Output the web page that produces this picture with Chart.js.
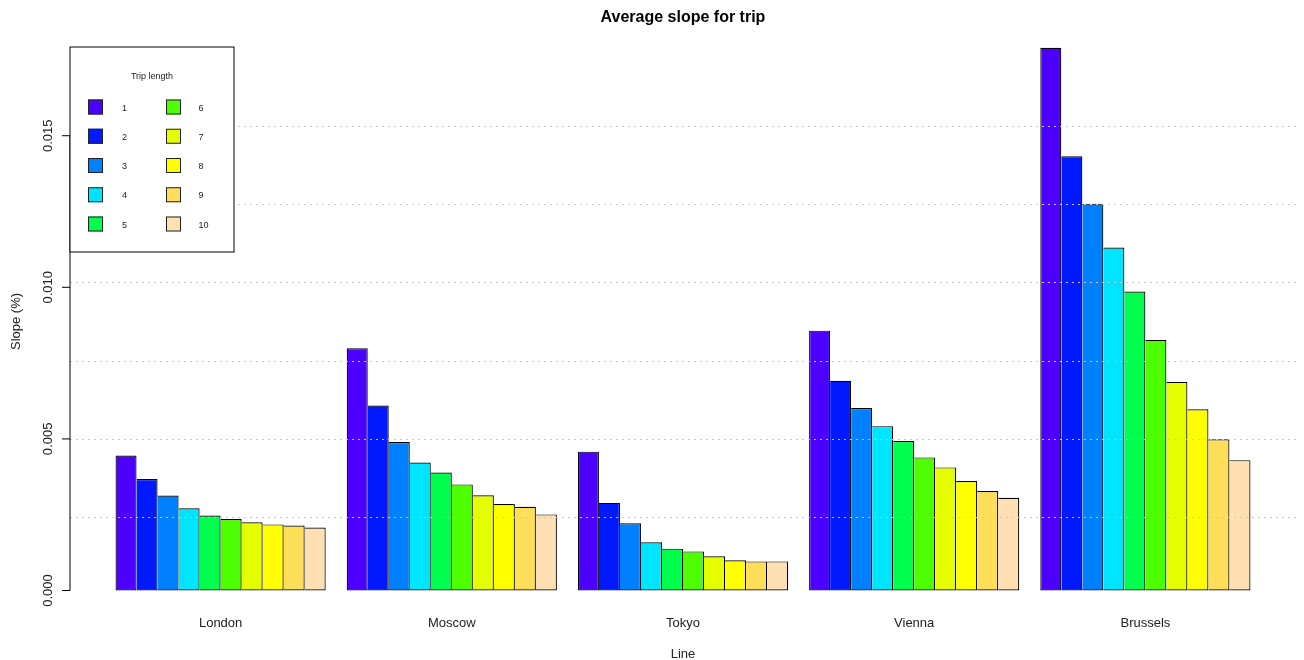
<!DOCTYPE html>
<html>
<head>
<meta charset="utf-8">
<title>Average slope for trip</title>
<script src="https://cdn.jsdelivr.net/npm/chart.js@4.4.1/dist/chart.umd.min.js"></script>
<style>
  html, body { margin: 0; padding: 0; background: #ffffff; }
  canvas { display: block; }
</style>
</head>
<body>
<canvas id="chart" width="1304" height="660"></canvas>
<script>
// Groups along the x axis and the trip lengths drawn side by side in each group
const cities = ['London', 'Moscow', 'Tokyo', 'Vienna', 'Brussels'];
const tripLengths = ['1', '2', '3', '4', '5', '6', '7', '8', '9', '10'];

// Average slope per trip length (1..10) for each line
const london   = [0.00445, 0.00368, 0.00313, 0.00271, 0.00247, 0.00236, 0.00225, 0.00218, 0.00214, 0.00208];
const moscow   = [0.00799, 0.00610, 0.00490, 0.00422, 0.00389, 0.00350, 0.00314, 0.00285, 0.00276, 0.00251];
const tokyo    = [0.00458, 0.00289, 0.00222, 0.00159, 0.00138, 0.00129, 0.00113, 0.00100, 0.00096, 0.00096];
const vienna   = [0.00857, 0.00692, 0.00602, 0.00542, 0.00493, 0.00439, 0.00406, 0.00361, 0.00328, 0.00306];
const brussels = [0.01790, 0.01432, 0.01276, 0.01131, 0.00986, 0.00826, 0.00688, 0.00598, 0.00499, 0.00430];

// topo.colors(10)
const tripColors = ['#4C00FF', '#0019FF', '#0080FF', '#00E5FF', '#00FF4D',
                    '#4DFF00', '#E6FF00', '#FFFF00', '#FFDE59', '#FFE0B3'];

const yTickValues = [0, 0.005, 0.010, 0.015];
const yTickLabels = ['0.000', '0.005', '0.010', '0.015'];

const cityValues = [london, moscow, tokyo, vienna, brussels];

const FONT = "'Liberation Sans', Arial, Helvetica, sans-serif";
const GRID_DIVISIONS = 7;

const datasets = tripLengths.map((len, j) => ({
  label: len,
  data: cities.map((c, i) => ({ x: i, y: cityValues[i][j] })),
  backgroundColor: tripColors[j],
  borderColor: '#000000',
  borderWidth: { top: 1.2, right: 1.2, bottom: 1.2, left: j === 0 ? 1.2 : 0 },
  borderSkipped: false,
  clip: false
}));

// Base-graphics style decorations: dotted grid, axis, text and the boxed legend
const baseGraphics = {
  id: 'baseGraphics',
  afterDatasetsDraw(chart) {
    const { ctx, chartArea: a, scales: { y } } = chart;
    ctx.save();
    ctx.strokeStyle = '#c8c8c8';
    ctx.lineWidth = 1;
    ctx.setLineDash([2, 4]);
    for (let k = 1; k < GRID_DIVISIONS; k++) {
      const v = y.min + (y.max - y.min) * k / GRID_DIVISIONS;
      const py = Math.round(y.getPixelForValue(v)) + 0.5;
      ctx.beginPath();
      ctx.moveTo(a.left, py);
      ctx.lineTo(a.right, py);
      ctx.stroke();
    }
    ctx.restore();
  },
  afterDraw(chart) {
    const { ctx, chartArea: a, scales: { x, y } } = chart;
    ctx.save();

    // y axis line and ticks
    ctx.strokeStyle = '#000000';
    ctx.lineWidth = 1;
    const y0 = y.getPixelForValue(yTickValues[0]);
    const y1 = y.getPixelForValue(yTickValues[yTickValues.length - 1]);
    ctx.beginPath();
    ctx.moveTo(a.left, y0);
    ctx.lineTo(a.left, y1);
    yTickValues.forEach(v => {
      const py = y.getPixelForValue(v);
      ctx.moveTo(a.left, py);
      ctx.lineTo(a.left - 8, py);
    });
    ctx.stroke();

    // y tick labels, parallel to the axis
    ctx.fillStyle = '#222222';
    ctx.font = '13px ' + FONT;
    ctx.textAlign = 'center';
    ctx.textBaseline = 'alphabetic';
    yTickValues.forEach((v, i) => {
      const py = y.getPixelForValue(v);
      ctx.save();
      ctx.translate(52, py);
      ctx.rotate(-Math.PI / 2);
      ctx.fillText(yTickLabels[i], 0, 0);
      ctx.restore();
    });

    // group names
    cities.forEach((c, i) => {
      ctx.fillText(c, x.getPixelForValue(i), 627);
    });

    // axis titles
    const midX = (a.left + a.right) / 2;
    ctx.fillText('Line', midX, 658);
    ctx.save();
    ctx.translate(19.5, (a.top + a.bottom) / 2);
    ctx.rotate(-Math.PI / 2);
    ctx.fillText('Slope (%)', 0, 0);
    ctx.restore();

    // main title
    ctx.fillStyle = '#000000';
    ctx.font = 'bold 16px ' + FONT;
    ctx.fillText('Average slope for trip', midX, 22);

    // legend box
    const lx = 70, ly = 47, lw = 164, lh = 205;
    ctx.fillStyle = '#ffffff';
    ctx.fillRect(lx, ly, lw, lh);
    ctx.strokeStyle = '#000000';
    ctx.strokeRect(lx, ly, lw, lh);

    ctx.fillStyle = '#222222';
    ctx.font = '9px ' + FONT;
    ctx.textAlign = 'center';
    ctx.fillText('Trip length', 152, 79);

    const rows = 5;
    const colSquareX = [88, 166];
    const colTextX = [122, 198.5];
    chart.data.datasets.forEach((ds, j) => {
      const col = Math.floor(j / rows);
      const row = j % rows;
      const cy = 107 + row * 29.25;
      ctx.fillStyle = ds.backgroundColor;
      ctx.fillRect(colSquareX[col], cy - 7.5, 15, 15);
      ctx.strokeStyle = '#222222';
      ctx.strokeRect(colSquareX[col] + 0.5, cy - 7.5 + 0.5, 14, 14);
      ctx.fillStyle = '#222222';
      ctx.textAlign = 'left';
      ctx.fillText(ds.label, colTextX[col], cy + 3.5);
    });

    ctx.restore();
  }
};

new Chart(document.getElementById('chart'), {
  type: 'bar',
  data: { datasets },
  options: {
    responsive: false,
    devicePixelRatio: 1,
    animation: false,
    events: [],
    layout: { padding: { left: 70, right: 8, top: 47.8, bottom: 64.8 } },
    datasets: {
      bar: { categoryPercentage: 10 / 11, barPercentage: 1 }
    },
    scales: {
      x: {
        type: 'linear',
        display: false,
        offset: false,
        min: -0.6515,
        max: cities.length - 1 + 0.6515,
        afterBuildTicks(scale) {
          scale.ticks = cities.map((c, i) => ({ value: i }));
        }
      },
      y: {
        type: 'linear',
        display: false,
        min: -0.000155,
        max: 0.0179
      }
    },
    plugins: {
      legend: { display: false },
      title: { display: false },
      tooltip: { enabled: false }
    }
  },
  plugins: [baseGraphics]
});
</script>
</body>
</html>
